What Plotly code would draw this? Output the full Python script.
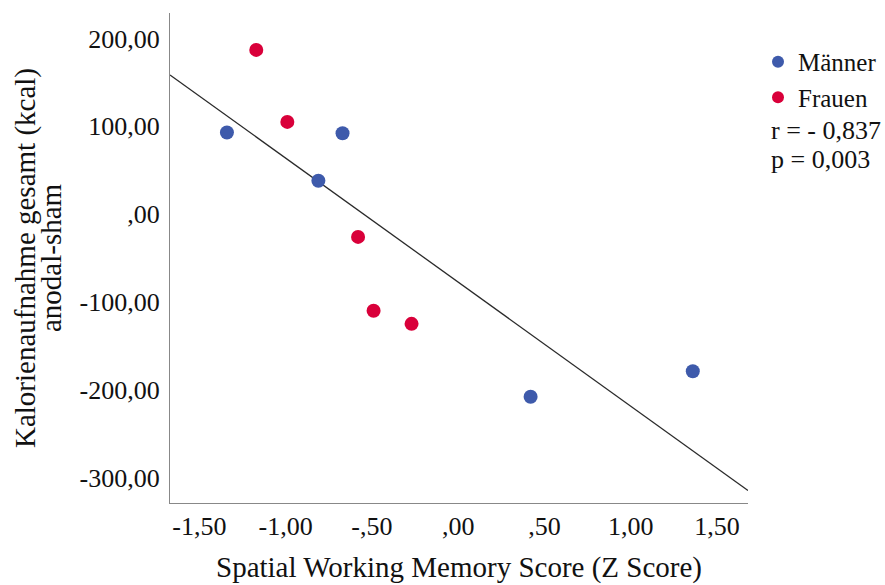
import numpy as np
import plotly.graph_objects as go

# Data
men_x = [-1.34, -0.67, -0.81, 0.42, 1.36]
men_y = [93, 92, 38, -208, -179]
women_x = [-1.17, -0.99, -0.58, -0.49, -0.27]
women_y = [187, 105, -26, -110, -125]

x_tickvals = [-1.5, -1.0, -0.5, 0.0, 0.5, 1.0, 1.5]
x_ticktext = ["-1,50", "-1,00", "-,50", ",00", ",50", "1,00", "1,50"]
y_tickvals = [200, 100, 0, -100, -200, -300]
y_ticktext = ["200,00", "100,00", ",00", "-100,00", "-200,00", "-300,00"]

x_range = [-1.67, 1.68]
y_range = [-329, 229]

x_title = "Spatial Working Memory Score (Z Score)"
y_title_lines = ["Kalorienaufnahme gesamt (kcal)", "anodal-sham"]
stats_text = ["r = - 0,837", "p = 0,003"]

FONT = "Liberation Serif"
BLUE = "#3e5aab"
RED = "#d9003a"

all_x = np.array(men_x + women_x)
all_y = np.array(men_y + women_y)
slope, intercept = np.polyfit(all_x, all_y, 1)
line_x = np.array(x_range)
line_y = slope * line_x + intercept

fig = go.Figure()
fig.add_trace(go.Scatter(
    x=line_x, y=line_y, mode="lines",
    line=dict(color="#2a2a2a", width=1.3), showlegend=False, hoverinfo="skip"))
fig.add_trace(go.Scatter(
    x=men_x, y=men_y, mode="markers", name="Männer",
    marker=dict(color=BLUE, size=14)))
fig.add_trace(go.Scatter(
    x=women_x, y=women_y, mode="markers", name="Frauen",
    marker=dict(color=RED, size=14)))

fig.update_layout(
    width=885, height=585,
    margin=dict(l=170, r=137, t=13, b=82, autoexpand=False),
    paper_bgcolor="white", plot_bgcolor="white",
    font=dict(family=FONT, color="#111111", size=26),
    legend=dict(x=(758 - 170) / 578, y=0.947, xanchor="left", yanchor="top",
                font=dict(size=25, family=FONT, color="#111111"),
                bgcolor="rgba(0,0,0,0)", itemsizing="constant",
                tracegroupgap=0),
    xaxis=dict(range=x_range, tickvals=x_tickvals, ticktext=x_ticktext,
               showgrid=False, zeroline=False, showline=True, linecolor="#888888",
               linewidth=1.3, ticks="", tickfont=dict(size=26),
               title=dict(text=x_title, font=dict(size=29), standoff=16)),
    yaxis=dict(range=y_range, tickvals=y_tickvals, ticktext=y_ticktext,
               showgrid=False, zeroline=False, showline=True, linecolor="#888888",
               linewidth=1.3, ticks="", tickfont=dict(size=26),
               ticklabelstandoff=4),
)

for i, t in enumerate(y_title_lines):
    fig.add_annotation(x=[-0.2508, -0.2058][i], y=0.5, xref="paper", yref="paper",
                       text=t, showarrow=False, textangle=-90,
                       xanchor="center", yanchor="middle",
                       font=dict(size=29, family=FONT, color="#111111"))

for i, t in enumerate(stats_text):
    fig.add_annotation(x=1.037, y=(503 - [130, 159][i]) / 490, xref="paper", yref="paper",
                       text=t, showarrow=False, xanchor="left", yanchor="middle",
                       font=dict(size=26, family=FONT, color="#111111"))

fig.write_html("out.html")
